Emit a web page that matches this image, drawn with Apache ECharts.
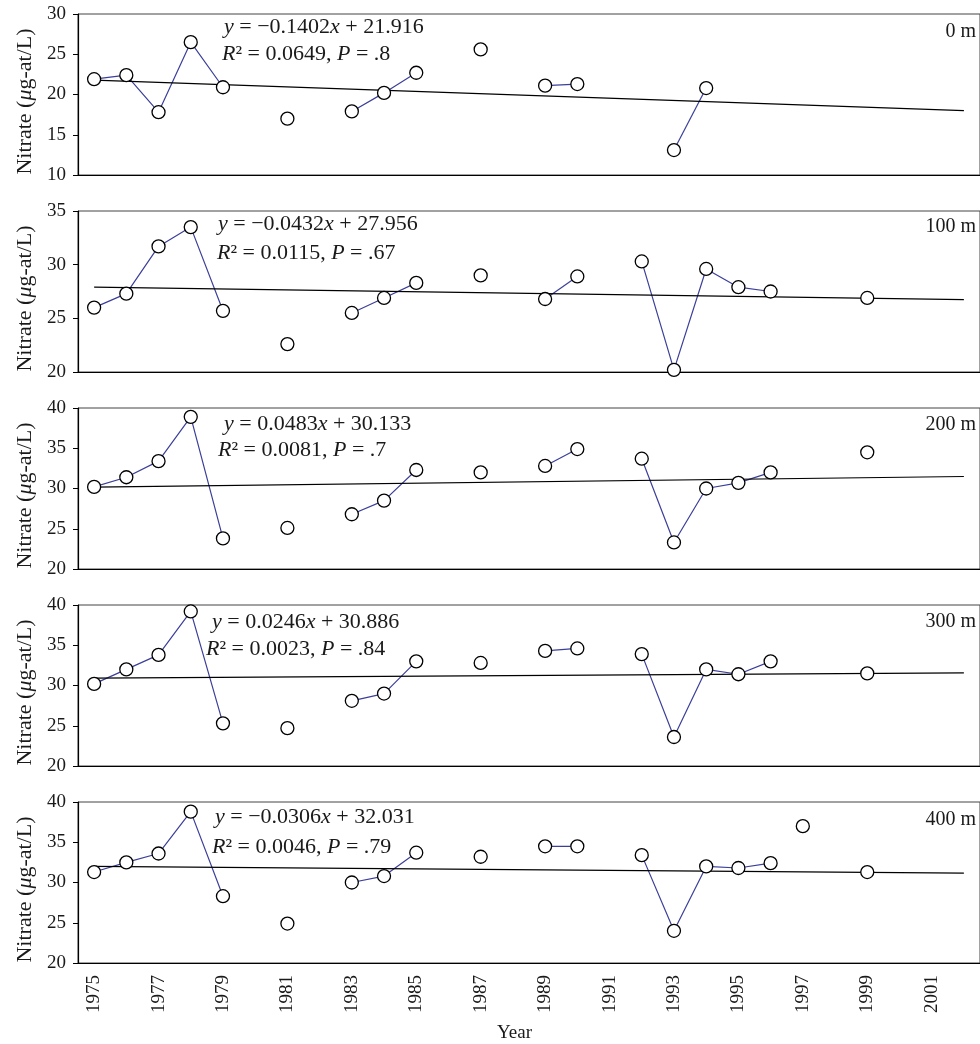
<!DOCTYPE html>
<html>
<head>
<meta charset="utf-8">
<script src="https://cdn.jsdelivr.net/npm/echarts@6/dist/echarts.min.js"></script>
<style>
  html, body { margin: 0; padding: 0; background: #fff; }
  #main { width: 980px; height: 1044px; }
</style>
</head>
<body>
<div id="main"></div>
<script>
var chartDom = document.getElementById('main');
var myChart = echarts.init(chartDom);
var option;

// x categories (one per year, ticks fall between years)
var years = [1975, 1976, 1977, 1978, 1979, 1980, 1981, 1982, 1983, 1984, 1985, 1986, 1987, 1988,
    1989, 1990, 1991, 1992, 1993, 1994, 1995, 1996, 1997, 1998, 1999, 2000, 2001, 2002];

var depthLabels = ['0 m', '100 m', '200 m', '300 m', '400 m'];

// 0 m
var yr0 = [1975, 1976, 1977, 1978, 1979, 1981, 1983, 1984, 1985, 1987, 1989, 1990, 1993, 1994];
var no3_0 = [21.9, 22.4, 17.8, 26.5, 20.9, 17.0, 17.9, 20.2, 22.7, 25.6, 21.1, 21.3, 13.1, 20.8];
var run0 = [0, 0, 0, 0, 0, 1, 2, 2, 2, 3, 4, 4, 5, 5];

// 100 m
var yr100 = [1975, 1976, 1977, 1978, 1979, 1981, 1983, 1984, 1985, 1987, 1989, 1990, 1992, 1993, 1994, 1995, 1996, 1999];
var no3_100 = [26.0, 27.3, 31.7, 33.5, 25.7, 22.6, 25.5, 26.9, 28.3, 29.0, 26.8, 28.9, 30.3, 20.2, 29.6, 27.9, 27.5, 26.9];
var run100 = [0, 0, 0, 0, 0, 1, 2, 2, 2, 3, 4, 4, 5, 5, 5, 5, 5, 6];

// 200 m
var yr200 = [1975, 1976, 1977, 1978, 1979, 1981, 1983, 1984, 1985, 1987, 1989, 1990, 1992, 1993, 1994, 1995, 1996, 1999];
var no3_200 = [30.2, 31.4, 33.4, 38.9, 23.8, 25.1, 26.8, 28.5, 32.3, 32.0, 32.8, 34.9, 33.7, 23.3, 30.0, 30.7, 32.0, 34.5];
var run200 = [0, 0, 0, 0, 0, 1, 2, 2, 2, 3, 4, 4, 5, 5, 5, 5, 5, 6];

// 300 m
var yr300 = [1975, 1976, 1977, 1978, 1979, 1981, 1983, 1984, 1985, 1987, 1989, 1990, 1992, 1993, 1994, 1995, 1996, 1999];
var no3_300 = [30.2, 32.0, 33.8, 39.2, 25.3, 24.7, 28.1, 29.0, 33.0, 32.8, 34.3, 34.6, 33.9, 23.6, 32.0, 31.4, 33.0, 31.5];
var run300 = [0, 0, 0, 0, 0, 1, 2, 2, 2, 3, 4, 4, 5, 5, 5, 5, 5, 6];

// 400 m
var yr400 = [1975, 1976, 1977, 1978, 1979, 1981, 1983, 1984, 1985, 1987, 1989, 1990, 1992, 1993, 1994, 1995, 1996, 1997, 1999];
var no3_400 = [31.3, 32.5, 33.6, 38.8, 28.3, 24.9, 30.0, 30.8, 33.7, 33.2, 34.5, 34.5, 33.4, 24.0, 32.0, 31.8, 32.4, 37.0, 31.3];
var run400 = [0, 0, 0, 0, 0, 1, 2, 2, 2, 3, 4, 4, 5, 5, 5, 5, 5, 6, 7];

// regression line values at 1975 and 2002
var trend0 = [21.78, 17.99];
var trend100 = [27.91, 26.75];
var trend200 = [30.18, 31.49];
var trend300 = [30.91, 31.58];
var trend400 = [32.00, 31.17];

var eqLine1 = ['{i|y}{n| = −0.1402}{i|x}{n| + 21.916}',
    '{i|y}{n| = −0.0432}{i|x}{n| + 27.956}',
    '{i|y}{n| = 0.0483}{i|x}{n| + 30.133}',
    '{i|y}{n| = 0.0246}{i|x}{n| + 30.886}',
    '{i|y}{n| = −0.0306}{i|x}{n| + 32.031}'];
var eqLine2 = ['{i|R}{n|² = 0.0649, }{i|P}{n| = .8}',
    '{i|R}{n|² = 0.0115, }{i|P}{n| = .67}',
    '{i|R}{n|² = 0.0081, }{i|P}{n| = .7}',
    '{i|R}{n|² = 0.0023, }{i|P}{n| = .84}',
    '{i|R}{n|² = 0.0046, }{i|P}{n| = .79}'];

var yMin = [10, 20, 20, 20, 20];
var yMax = [30, 35, 40, 40, 40];

var panels = [
    { yr: yr0, val: no3_0, run: run0, trend: trend0 },
    { yr: yr100, val: no3_100, run: run100, trend: trend100 },
    { yr: yr200, val: no3_200, run: run200, trend: trend200 },
    { yr: yr300, val: no3_300, run: run300, trend: trend300 },
    { yr: yr400, val: no3_400, run: run400, trend: trend400 }
];

// layout
var FONT = 'Liberation Serif';
var gridTop = [14, 211, 408, 605, 802];
var gridH = 161;
// [left1, top1, left2, top2] of the two equation lines
var eqPos = [[224, 16, 222, 43], [218, 213, 217, 242], [224, 413, 218, 439], [212, 611, 206, 638], [215, 806, 212, 836]];
var depthY = [33, 228, 426, 623, 821];
var eqRich = {
    n: { fontFamily: FONT, fontSize: 22, fontWeight: 'normal', color: '#1a1a1a' },
    i: { fontFamily: FONT, fontSize: 22, fontWeight: 'normal', fontStyle: 'italic', color: '#1a1a1a' }
};
var nameRich = {
    n: { fontFamily: FONT, fontSize: 22, color: '#1a1a1a' },
    i: { fontFamily: FONT, fontSize: 22, fontStyle: 'italic', color: '#1a1a1a' }
};

var grids = [], xAxes = [], yAxes = [], series = [], titles = [];

panels.forEach(function (p, k) {
    var last = k === panels.length - 1;
    grids.push({
        left: 78, right: -6, top: gridTop[k], height: gridH,
        show: true, borderColor: '#444', borderWidth: 1
    });
    xAxes.push({
        type: 'category', gridIndex: k, data: years, boundaryGap: true,
        axisLine: { lineStyle: { color: '#000', width: 1.2 } },
        axisTick: { inside: true, length: 7, interval: 0, lineStyle: { color: '#000' } },
        axisLabel: {
            show: last, interval: 1, rotate: 90, margin: 12,
            fontFamily: FONT, fontSize: 19, color: '#1a1a1a'
        },
        splitLine: { show: false }
    });
    yAxes.push({
        type: 'value', gridIndex: k, min: yMin[k], max: yMax[k], interval: 5,
        name: '{n|Nitrate (}{i|μ}{n|g-at/L)}',
        nameLocation: 'middle', nameGap: 40,
        nameTextStyle: { rich: nameRich, padding: [0, 14, 0, 0] },
        axisLine: { show: true, lineStyle: { color: '#000', width: 1.2 } },
        axisTick: { show: true, length: 5, lineStyle: { color: '#000' } },
        axisLabel: { margin: 12, fontFamily: FONT, fontSize: 19, color: '#1a1a1a' },
        splitLine: { show: false }
    });

    // connecting segments, one line per run of linked years
    var runs = {};
    p.yr.forEach(function (y, i) {
        var r = p.run[i];
        if (!runs[r]) runs[r] = [];
        runs[r].push([years.indexOf(y), p.val[i]]);
    });
    Object.keys(runs).forEach(function (r) {
        if (runs[r].length < 2) return;
        series.push({
            type: 'line', xAxisIndex: k, yAxisIndex: k, data: runs[r],
            showSymbol: false, silent: true, z: 2,
            lineStyle: { color: '#3b3f9a', width: 1.2 }
        });
    });

    // regression line
    series.push({
        type: 'line', xAxisIndex: k, yAxisIndex: k,
        data: [[0, p.trend[0]], [years.length - 1, p.trend[1]]],
        showSymbol: false, silent: true, z: 3,
        lineStyle: { color: '#000', width: 1.2 }
    });

    // open circles
    series.push({
        type: 'scatter', xAxisIndex: k, yAxisIndex: k,
        data: p.yr.map(function (y, i) { return [years.indexOf(y), p.val[i]]; }),
        symbol: 'circle', symbolSize: 13, z: 5,
        itemStyle: { color: '#fff', borderColor: '#000', borderWidth: 1.3, opacity: 1 }
    });

    titles.push({
        text: eqLine1[k], left: eqPos[k][0], top: eqPos[k][1], padding: 0,
        textStyle: { fontWeight: 'normal', rich: eqRich }
    });
    titles.push({
        text: eqLine2[k], left: eqPos[k][2], top: eqPos[k][3], padding: 0,
        textStyle: { fontWeight: 'normal', rich: eqRich }
    });
    titles.push({
        text: depthLabels[k], right: 4, top: depthY[k] - 11, padding: 0,
        textStyle: { fontFamily: FONT, fontSize: 20, fontWeight: 'normal', color: '#1a1a1a' }
    });
});

option = {
    animation: false,
    backgroundColor: '#fff',
    title: titles,
    grid: grids,
    xAxis: xAxes,
    yAxis: yAxes,
    series: series,
    graphic: [{
        type: 'text', left: 497, top: 1024,
        style: { text: 'Year', fontFamily: FONT, fontSize: 19, fill: '#1a1a1a' }
    }]
};

option && myChart.setOption(option);
</script>
</body>
</html>
